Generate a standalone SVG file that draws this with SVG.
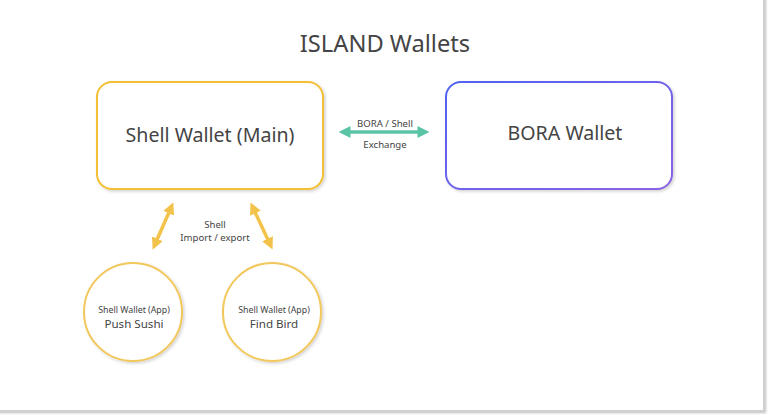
<svg xmlns="http://www.w3.org/2000/svg" width="768" height="415" viewBox="0 0 768 415">
  <defs>
    <filter id="sh" x="-10%" y="-10%" width="130%" height="130%">
      <feDropShadow dx="1.5" dy="1.5" stdDeviation="1.5" flood-color="#000" flood-opacity="0.18"/>
    </filter>
    <filter id="psh" x="-5%" y="-5%" width="110%" height="110%">
      <feDropShadow dx="1" dy="1" stdDeviation="1.2" flood-color="#000" flood-opacity="0.25"/>
    </filter>
    <linearGradient id="bora" x1="0" y1="0" x2="1" y2="1">
      <stop offset="0" stop-color="#4f62f2"/>
      <stop offset="1" stop-color="#8d62e4"/>
    </linearGradient>
    <marker id="ty" viewBox="0 0 10 10" refX="3" refY="5" markerWidth="3.4" markerHeight="3.4" orient="auto-start-reverse" markerUnits="strokeWidth">
      <path d="M0,0 L10,5 L0,10 z" fill="#f3c24a"/>
    </marker>
    <marker id="tt" viewBox="0 0 10 10" refX="3" refY="5" markerWidth="3.4" markerHeight="3.4" orient="auto-start-reverse" markerUnits="strokeWidth">
      <path d="M0,0 L10,5 L0,10 z" fill="#5cc4a6"/>
    </marker>
  </defs>
  <style>
    text { font-family: "Noto Sans", "Open Sans", "Liberation Sans", sans-serif; fill: #444; text-anchor: middle; }
    .big { font-size: 19.6px; }
    .sm { font-size: 9.6px; }
    .xs { font-size: 8.8px; }
    .md { font-size: 11.6px; }
    .card { fill: #fff; stroke-width: 2; filter: url(#sh); }
    .y { stroke: #f5bf36; }
    .yc { fill: #fff; stroke: #f2c75c; stroke-width: 2; filter: url(#sh); }
  </style>
  <rect x="0" y="0" width="768" height="415" fill="#ffffff"/>
  <rect x="-2" y="-2" width="766" height="413" fill="#fff" stroke="#d0d0d0" stroke-width="2" filter="url(#psh)"/>
  <text x="385" y="52" style="font-size:23.7px" fill="#404040">ISLAND Wallets</text>

  <g id="shell-main">
    <rect class="card y" x="97" y="82" width="226" height="107" rx="15"/>
    <text class="big" x="210" y="142">Shell Wallet (Main)</text>
  </g>
  <g id="bora-wallet">
    <rect class="card" stroke="url(#bora)" x="446" y="82" width="226" height="107" rx="15"/>
    <text class="big" x="565" y="140">BORA Wallet</text>
  </g>
  <g id="push-sushi">
    <circle class="yc" cx="133" cy="312" r="49"/>
    <text class="xs" x="134" y="313">Shell Wallet (App)</text>
    <text class="md" x="134" y="328">Push Sushi</text>
  </g>
  <g id="find-bird">
    <circle class="yc" cx="272" cy="312" r="49"/>
    <text class="xs" x="274" y="313">Shell Wallet (App)</text>
    <text class="md" x="274" y="328">Find Bird</text>
  </g>

  <g id="connectors" fill="none" stroke-width="3.5">
    <line x1="347" y1="132" x2="421" y2="132" stroke="#5cc4a6" marker-start="url(#tt)" marker-end="url(#tt)"/>
    <line x1="170" y1="210" x2="156" y2="242" stroke="#f3c24a" marker-start="url(#ty)" marker-end="url(#ty)"/>
    <line x1="254" y1="210" x2="269" y2="242" stroke="#f3c24a" marker-start="url(#ty)" marker-end="url(#ty)"/>
  </g>
  <g id="labels">
    <text class="sm" x="385" y="127">BORA / Shell</text>
    <text class="sm" x="385" y="148">Exchange</text>
    <text class="sm" x="215" y="228">Shell</text>
    <text class="sm" x="215" y="241">Import / export</text>
  </g>
</svg>
